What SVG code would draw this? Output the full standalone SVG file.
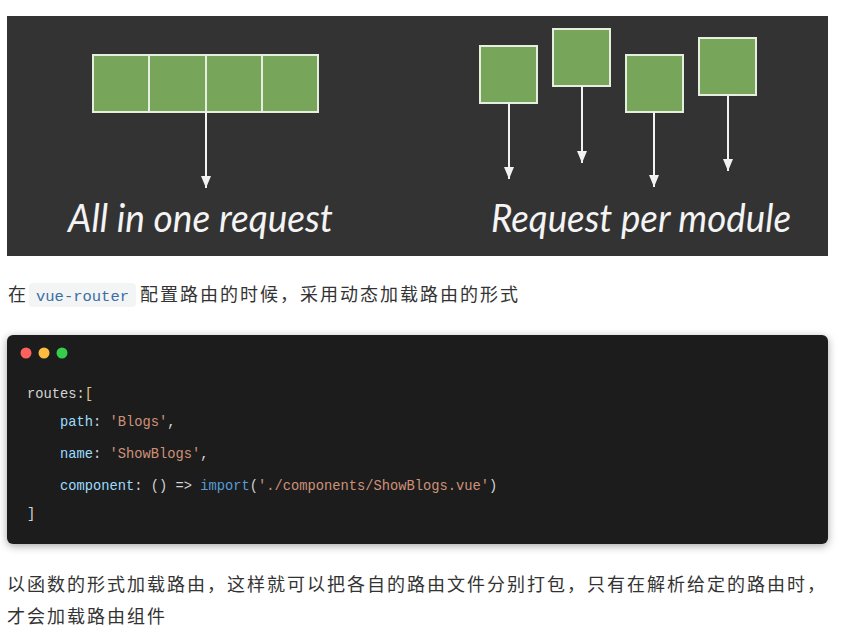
<svg xmlns="http://www.w3.org/2000/svg" width="860" height="637" viewBox="0 0 860 637">
<defs>
<style>
.box{fill:#77a65b;stroke:#e6eedf;stroke-width:2}
.arr{stroke:#f2f2f2;stroke-width:2;fill:none}
.lbl{fill:#f4f4f4;font-family:"Lato","Open Sans",sans-serif;font-style:italic;font-size:38px}
.zh{fill:#333;font-family:"Noto Sans CJK SC",sans-serif;font-size:18px;letter-spacing:2px}
.code{font-family:"Liberation Mono","DejaVu Sans Mono",monospace;font-size:13.75px;fill:#d4d4d4}
.p{fill:#9cdcfe}.s{fill:#ce9178}.k{fill:#569cd6}.b{fill:#e2c08d}
</style>
<marker id="ah" viewBox="0 0 12 10" refX="12" refY="5" markerWidth="12" markerHeight="10" markerUnits="userSpaceOnUse" orient="auto">
<path d="M0,0 L12,5 L0,10 Z" fill="#f2f2f2"/>
</marker>
<filter id="sh" x="-5%" y="-10%" width="110%" height="120%">
<feDropShadow dx="0" dy="2" stdDeviation="4" flood-color="#000" flood-opacity="0.35"/>
</filter>
</defs>
<rect width="860" height="637" fill="#fff"/>
<g id="banner">
<rect x="7" y="16" width="821" height="240" fill="#333"/>
</g>
<g id="bundle">
<rect class="box" x="93" y="55" width="56" height="57"/>
<rect class="box" x="149" y="55" width="57" height="57"/>
<rect class="box" x="206" y="55" width="56" height="57"/>
<rect class="box" x="262" y="55" width="56" height="57"/>
</g>
<g id="mod1"><rect class="box" x="480" y="46" width="57" height="57"/></g>
<g id="mod2"><rect class="box" x="553" y="29" width="57" height="57"/></g>
<g id="mod3"><rect class="box" x="626" y="55" width="57" height="57"/></g>
<g id="mod4"><rect class="box" x="699" y="38" width="57" height="57"/></g>
<g id="connectors">
<line class="arr" x1="206" y1="112" x2="206" y2="188" marker-end="url(#ah)"/>
<line class="arr" x1="509" y1="103" x2="509" y2="179" marker-end="url(#ah)"/>
<line class="arr" x1="582" y1="86" x2="582" y2="163" marker-end="url(#ah)"/>
<line class="arr" x1="654" y1="112" x2="654" y2="187" marker-end="url(#ah)"/>
<line class="arr" x1="728" y1="95" x2="728" y2="171" marker-end="url(#ah)"/>
</g>
<g id="labels">
<text class="lbl" x="68" y="232" textLength="265" lengthAdjust="spacingAndGlyphs">All in one request</text>
<text class="lbl" x="491" y="232" textLength="300" lengthAdjust="spacingAndGlyphs">Request per module</text>
</g>
<g id="para1">
<text class="zh" x="8" y="301">在</text>
<rect x="29" y="283" width="107" height="24" rx="4" fill="#f3f4f4"/>
<text x="36" y="301" font-family="Liberation Mono,DejaVu Sans Mono,monospace" font-size="15.5" fill="#3c6ea8">vue-router</text>
<text class="zh" x="140" y="301">配置路由的时候，采用动态加载路由的形式</text>
</g>
<g id="codeblock">
<rect x="7" y="335" width="821" height="209" rx="6" fill="#1e1e1e" filter="url(#sh)"/>
<circle cx="26" cy="353" r="5.5" fill="#fc625d"/>
<circle cx="44" cy="353" r="5.5" fill="#fdbc40"/>
<circle cx="62" cy="353" r="5.5" fill="#35cd4b"/>
<text class="code" x="27" y="398">routes:<tspan class="b">[</tspan></text>
<text class="code" x="60" y="426"><tspan class="p">path</tspan>: <tspan class="s">'Blogs'</tspan>,</text>
<text class="code" x="60" y="458"><tspan class="p">name</tspan>: <tspan class="s">'ShowBlogs'</tspan>,</text>
<text class="code" x="60" y="490"><tspan class="p">component</tspan>: () =&gt; <tspan class="k">import</tspan>(<tspan class="s">'./components/ShowBlogs.vue'</tspan>)</text>
<text class="code" x="27" y="518">]</text>
</g>
<g id="para2">
<text class="zh" x="7" y="591">以函数的形式加载路由，这样就可以把各自的路由文件分别打包，只有在解析给定的路由时，</text>
<text class="zh" x="7" y="623">才会加载路由组件</text>
</g>
</svg>
